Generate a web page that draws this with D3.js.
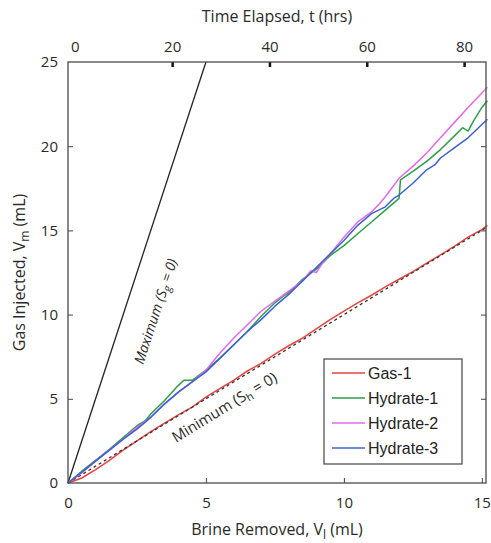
<!DOCTYPE html>
<html>
<head>
<meta charset="utf-8">
<script src="https://cdn.jsdelivr.net/npm/d3@7"></script>
<style>
  body { margin: 0; background: #fff; }
  svg text { font-family: "Open Sans", "Noto Sans", sans-serif; fill: #2a2a2a; }
  .legend text { font-family: "Liberation Sans", Arial, sans-serif; fill: #222; }
</style>
</head>
<body>
<svg width="491" height="543"></svg>
<script>
// brine removed (mL) vs gas injected (mL)
const gasX = [0, 0.5, 1, 1.5, 2, 2.5, 3, 3.5, 4, 4.5, 5, 5.5, 6, 6.5, 7, 7.5, 8, 8.5, 9, 9.5, 10, 10.5, 11, 11.5, 12, 12.5, 13, 13.5, 14, 14.5, 15, 15.2];
const gasY = [0, 0.3, 0.8, 1.35, 1.95, 2.5, 3.05, 3.55, 4.05, 4.5, 5.1, 5.6, 6.1, 6.65, 7.1, 7.65, 8.15, 8.6, 9.15, 9.7, 10.2, 10.7, 11.15, 11.65, 12.1, 12.55, 13.05, 13.55, 14.05, 14.6, 15.05, 15.3];

const hyd1X = [0, 0.5, 1, 1.5, 2, 2.5, 2.8, 3, 3.5, 4, 4.2, 4.5, 5, 5.5, 6, 6.5, 7, 7.5, 7.8, 8, 8.5, 9, 9.5, 10, 10.5, 11, 11.5, 12, 12.05, 12.5, 13, 13.5, 14, 14.3, 14.5, 14.7, 15, 15.2];
const hyd1Y = [0, 0.7, 1.35, 2.0, 2.7, 3.4, 3.7, 4.1, 4.9, 5.8, 6.1, 6.1, 6.7, 7.4, 8.2, 9.0, 9.9, 10.7, 11.1, 11.3, 12.1, 12.7, 13.5, 14.1, 14.8, 15.5, 16.2, 16.9, 18.0, 18.5, 19.1, 19.8, 20.6, 21.1, 20.9, 21.5, 22.3, 22.7];

const hyd2X = [0, 0.5, 1, 1.5, 2, 2.5, 3, 3.5, 4, 4.5, 5, 5.5, 6, 6.5, 7, 7.5, 8, 8.5, 8.8, 9, 9.2, 9.5, 10, 10.5, 11, 11.3, 11.5, 12, 12.5, 13, 13.5, 14, 14.5, 15.2];
const hyd2Y = [0, 0.6, 1.3, 1.95, 2.6, 3.3, 3.9, 4.7, 5.4, 6.0, 6.7, 7.7, 8.6, 9.4, 10.2, 10.8, 11.4, 12.0, 12.6, 12.5, 13.0, 13.6, 14.6, 15.5, 16.1, 16.6, 17.0, 18.1, 18.8, 19.6, 20.5, 21.4, 22.3, 23.5];

const hyd3X = [0, 0.5, 1, 1.5, 2, 2.5, 3, 3.5, 4, 4.5, 5, 5.5, 6, 6.5, 7, 7.5, 8, 8.5, 9, 9.5, 10, 10.5, 11, 11.5, 11.8, 12, 12.5, 13, 13.3, 13.5, 14, 14.5, 15.2];
const hyd3Y = [0, 0.65, 1.3, 1.95, 2.6, 3.2, 3.9, 4.7, 5.4, 6.0, 6.6, 7.4, 8.2, 9.0, 9.7, 10.5, 11.2, 12.0, 12.8, 13.6, 14.4, 15.3, 16.0, 16.4, 16.9, 17.1, 17.8, 18.6, 18.9, 19.3, 19.9, 20.5, 21.6];

// bounds: Sg = 0 and Sh = 0
const maxLineX = [0, 5];
const maxLineY = [0, 25];
const minLineX = [0, 15.2];
const minLineY = [0, 15.2];

const seriesNames = ['Gas-1', 'Hydrate-1', 'Hydrate-2', 'Hydrate-3'];
const seriesColors = ['#e8443f', '#2e9e4a', '#e46ae8', '#3c60d2'];

const xTicks = [0, 5, 10, 15];
const yTicks = [0, 5, 10, 15, 20, 25];
const tTicks = [0, 20, 40, 60, 80];

const W = 491, H = 543;
const MARGIN = { top: 62, right: 5, bottom: 60, left: 68 };

const $svg = d3.select('svg');

const x = d3.scaleLinear().domain([0, 15.15]).range([MARGIN.left, W - MARGIN.right]);
const y = d3.scaleLinear().domain([0, 25]).range([H - MARGIN.bottom, MARGIN.top]);
const t = d3.scaleLinear().domain([-1.4, 84.5]).range([MARGIN.left, W - MARGIN.right]);

const zip = (xs, ys) => xs.map((d, i) => [d, ys[i]]);
const line = d3.line().x(d => x(d[0])).y(d => y(d[1]));

const $plot = $svg.append('g');

$plot.append('path')
  .datum(zip(maxLineX, maxLineY))
  .attr('d', line)
  .attr('fill', 'none')
  .attr('stroke', '#222')
  .attr('stroke-width', 1.3);

const seriesData = [zip(gasX, gasY), zip(hyd1X, hyd1Y), zip(hyd2X, hyd2Y), zip(hyd3X, hyd3Y)];

$plot.append('path')
  .datum(seriesData[0])
  .attr('d', line)
  .attr('fill', 'none')
  .attr('stroke', seriesColors[0])
  .attr('stroke-width', 1.5);

$plot.append('path')
  .datum(zip(minLineX, minLineY))
  .attr('d', line)
  .attr('fill', 'none')
  .attr('stroke', '#333')
  .attr('stroke-width', 1.3)
  .attr('stroke-dasharray', '3,3');

seriesData.slice(1).forEach((d, i) => {
  $plot.append('path')
    .datum(d)
    .attr('d', line)
    .attr('fill', 'none')
    .attr('stroke', seriesColors[i + 1])
    .attr('stroke-width', 1.5)
    .attr('stroke-linejoin', 'round');
});

// axes
const styleAxis = g => {
  g.select('.domain').remove();
  g.selectAll('.tick line').attr('stroke', '#444');
  g.selectAll('.tick text').attr('fill', '#2a2a2a').style('font-size', '15px');
};

$svg.append('g')
  .attr('transform', `translate(0,${H - MARGIN.bottom})`)
  .call(d3.axisBottom(x).tickValues(xTicks).tickSizeInner(-5).tickSizeOuter(0).tickPadding(14))
  .call(styleAxis)
  .call(g => g.selectAll('.tick').filter(d => d === 0).select('line').remove());

$svg.append('g')
  .attr('transform', `translate(${MARGIN.left},0)`)
  .call(d3.axisLeft(y).tickValues(yTicks).tickSizeInner(-5).tickSizeOuter(0).tickPadding(10))
  .call(styleAxis)
  .call(g => g.selectAll('.tick').filter(d => d === 0 || d === 25).select('line').remove());

$svg.append('g')
  .attr('transform', `translate(${W - MARGIN.right},0)`)
  .call(d3.axisRight(y).tickValues(yTicks.slice(1, -1)).tickSizeInner(-5).tickSizeOuter(0).tickFormat(''))
  .call(styleAxis);

$svg.append('g')
  .attr('transform', `translate(0,${MARGIN.top})`)
  .call(d3.axisTop(t).tickValues(tTicks).tickSizeInner(-5).tickSizeOuter(0).tickPadding(10))
  .call(styleAxis)
  .call(g => g.selectAll('.tick line').attr('stroke', '#111').attr('stroke-width', 2.5))
  .call(g => g.selectAll('.tick').filter(d => d === 0).select('line').remove());

// frame
$svg.append('rect')
  .attr('x', MARGIN.left)
  .attr('y', MARGIN.top)
  .attr('width', W - MARGIN.left - MARGIN.right)
  .attr('height', H - MARGIN.top - MARGIN.bottom)
  .attr('fill', 'none')
  .attr('stroke', '#4a4a4a')
  .attr('stroke-width', 1.3);

// axis titles
$svg.append('text')
  .attr('x', (MARGIN.left + W - MARGIN.right) / 2)
  .attr('y', 22)
  .attr('text-anchor', 'middle')
  .style('font-size', '16px')
  .text('Time Elapsed, t (hrs)');

const $xt = $svg.append('text')
  .attr('x', (MARGIN.left + W - MARGIN.right) / 2)
  .attr('y', 535)
  .attr('text-anchor', 'middle')
  .style('font-size', '16px');
$xt.append('tspan').text('Brine Removed, V');
$xt.append('tspan').attr('dy', 4).style('font-size', '12px').text('l');
$xt.append('tspan').attr('dy', -4).text(' (mL)');

const $yt = $svg.append('text')
  .attr('transform', `translate(25,${(MARGIN.top + H - MARGIN.bottom) / 2}) rotate(-90)`)
  .attr('text-anchor', 'middle')
  .style('font-size', '16px');
$yt.append('tspan').text('Gas Injected, V');
$yt.append('tspan').attr('dy', 4).style('font-size', '12px').text('m');
$yt.append('tspan').attr('dy', -4).text(' (mL)');

// bound labels, rotated along their lines
const angleOf = (xs, ys) => Math.atan2(y(ys[1]) - y(ys[0]), x(xs[1]) - x(xs[0])) * 180 / Math.PI;

const maxAngle = angleOf(maxLineX, maxLineY);
const $maxLabel = $svg.append('text')
  .attr('transform', `translate(${x(3.55)},${y(10.0)}) rotate(${maxAngle}) translate(0,-6)`)
  .attr('text-anchor', 'middle')
  .style('font-size', '14px')
  .style('font-style', 'italic')
  .attr('fill', '#222');
$maxLabel.append('tspan').text('Maximum (S');
$maxLabel.append('tspan').attr('dy', 3).style('font-size', '11px').text('g');
$maxLabel.append('tspan').attr('dy', -3).text(' = 0)');

const minAngle = angleOf(minLineX, minLineY);
const $minLabel = $svg.append('text')
  .attr('transform', `translate(${x(5.35)},${y(5.35)}) rotate(${minAngle}) translate(0,22)`)
  .attr('text-anchor', 'middle')
  .style('font-size', '15px')
  .attr('fill', '#222');
$minLabel.append('tspan').text('Minimum (S');
$minLabel.append('tspan').attr('dy', 3).style('font-size', '11px').text('h');
$minLabel.append('tspan').attr('dy', -3).text(' = 0)');

// legend
const $legend = $svg.append('g').attr('class', 'legend').attr('transform', 'translate(324,359)');
$legend.append('rect')
  .attr('width', 138)
  .attr('height', 105)
  .attr('fill', '#fff')
  .attr('stroke', '#444')
  .attr('stroke-width', 1.2);

const $item = $legend.selectAll('g.item')
  .data(seriesNames)
  .enter()
  .append('g')
  .attr('class', 'item')
  .attr('transform', (d, i) => `translate(0,${14 + i * 25})`);

$item.append('line')
  .attr('x1', 8).attr('x2', 41)
  .attr('stroke', (d, i) => seriesColors[i])
  .attr('stroke-width', 1.5);

$item.append('text')
  .attr('x', 44)
  .attr('dy', '0.35em')
  .style('font-size', '16px')
  .text(d => d);
</script>
</body>
</html>
